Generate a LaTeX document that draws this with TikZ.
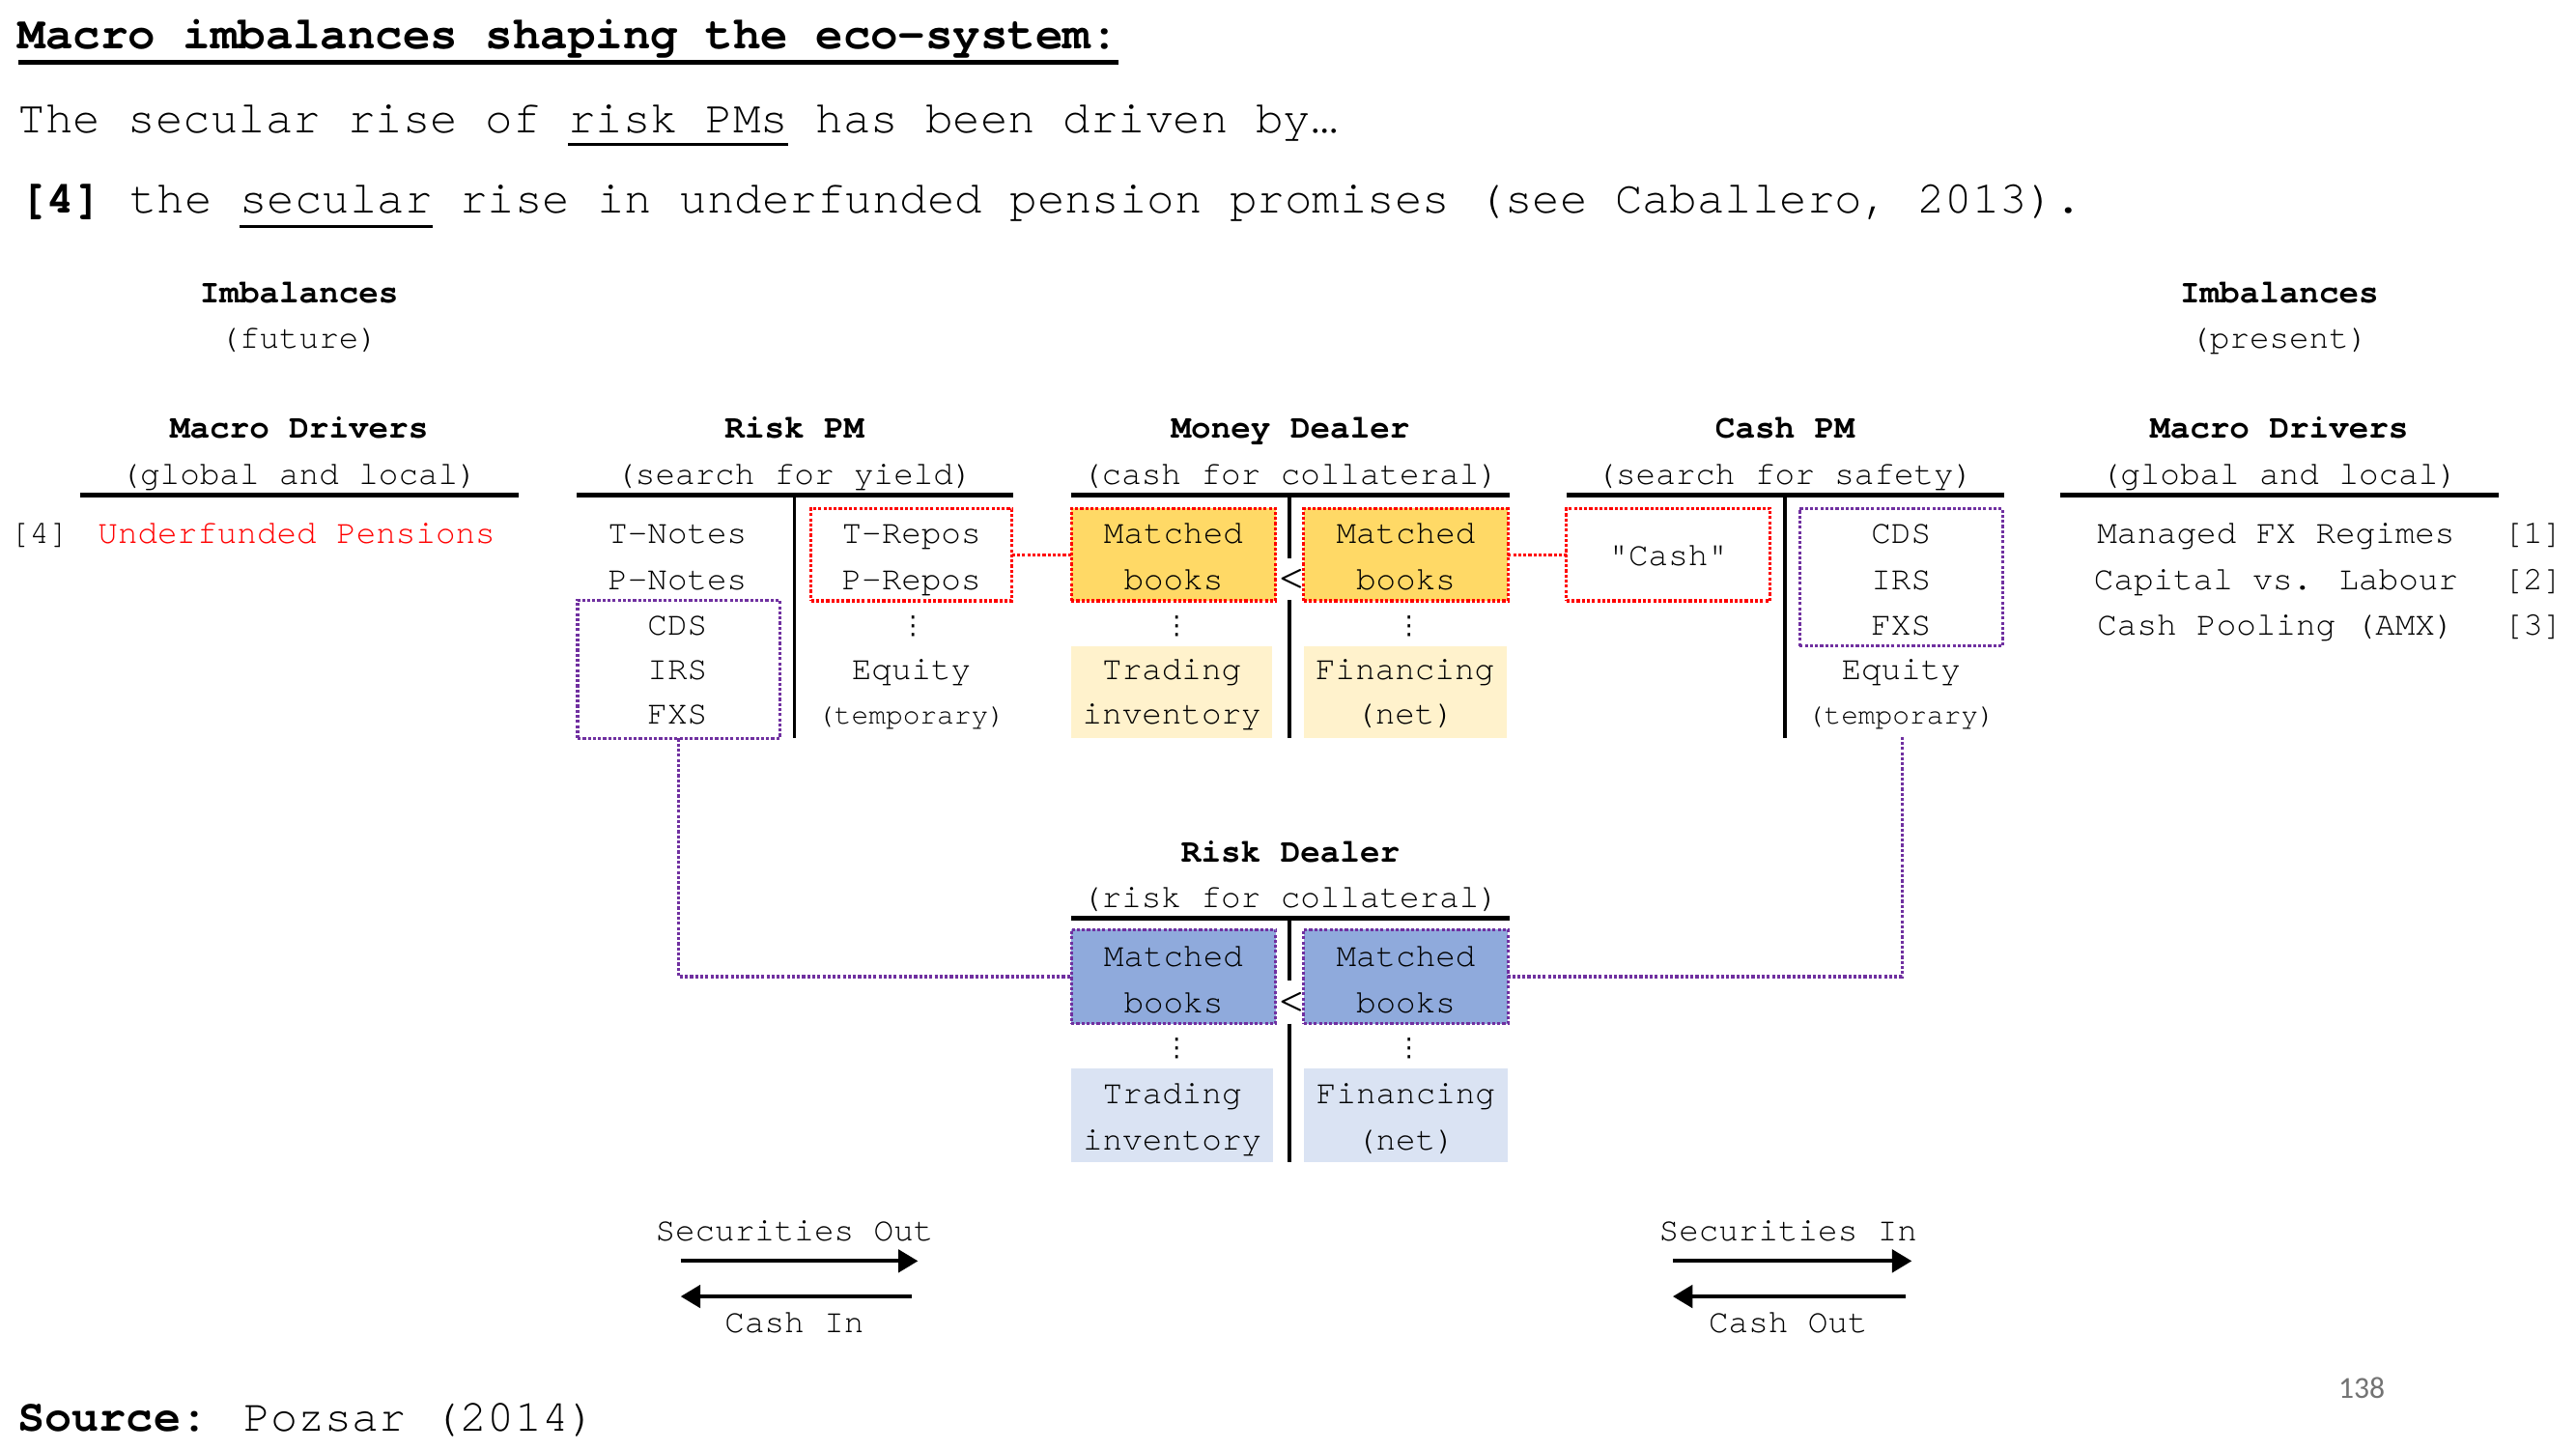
\documentclass[tikz,border=0pt]{standalone}
\usepackage{fontspec}
\setmainfont{TeX Gyre Cursor}
\newfontfamily\calib{Carlito}
\newfontfamily\dejavu{DejaVu Sans}
\usetikzlibrary{arrows.meta}
\definecolor{redd}{HTML}{FF0000}
\definecolor{purp}{HTML}{7030A0}
\definecolor{goldf}{HTML}{FFD966}
\definecolor{lgold}{HTML}{FFF2CC}
\definecolor{bluef}{HTML}{8FAADC}
\definecolor{lblue}{HTML}{DAE3F3}
\begin{document}
\begin{tikzpicture}[x=0.0170633cm,y=-0.0170633cm,
  every node/.style={inner sep=0pt, outer sep=0pt},
  big/.style={font=\fontsize{13.5pt}{16pt}\selectfont, anchor=base west},
  txt/.style={font=\fontsize{9.75pt}{13.35pt}\selectfont, anchor=base},
  hd/.style={font=\fontsize{9.75pt}{13.35pt}\selectfont\bfseries, anchor=base},
  sm/.style={font=\fontsize{8.4pt}{10pt}\selectfont, anchor=base},
  dts/.style={font=\dejavu\fontsize{7.5pt}{7.5pt}\selectfont, anchor=center},
  ltr/.style={font=\fontsize{15pt}{15pt}\selectfont, anchor=center},
  dotl/.style={line width=0.9pt, dash pattern=on 0.9pt off 0.6pt},
  redbox/.style={dotl, draw=redd},
  purbox/.style={dotl, draw=purp},
  bx/.style 2 args={minimum width=#1*0.0170633cm, minimum height=#2*0.0170633cm},
  tbar/.style={line width=1.3pt},
  vbar/.style={line width=1.1pt},
  flow/.style={line width=1.2pt, -{Triangle[length=5.8pt,width=6.6pt]}}
]
\useasboundingbox (0,0) rectangle (1563,879.08);

% ---------- header text ----------
\node[big, font=\fontsize{13.5pt}{16pt}\selectfont\bfseries] (title) at (11,29.4) {Macro imbalances shaping the eco-system:};
\draw[line width=1.4pt] ([yshift=-0.14cm]title.base west) -- ([yshift=-0.14cm]title.base east);

\node[big] (l2a) at (11,80.4) {The secular rise of\hphantom{x}};
\node[big] (l2b) at (l2a.base east) {risk PMs};
\node[big] (l2c) at (l2b.base east) {\hphantom{x}has been driven by…};
\draw[line width=0.8pt] ([yshift=-0.125cm]l2b.base west) -- ([yshift=-0.125cm]l2b.base east);

\node[big] (l3a) at (12,129.4) {\textbf{[4]} the\hphantom{x}};
\node[big] (l3b) at (l3a.base east) {secular};
\node[big] (l3c) at (l3b.base east) {\hphantom{x}rise in underfunded pension promises (see Caballero, 2013).};
\draw[line width=0.8pt] ([yshift=-0.135cm]l3b.base west) -- ([yshift=-0.135cm]l3b.base east);

% ---------- imbalances ----------
\node[hd] (imbL) at (181.5,183.5) {Imbalances};
\node[txt] (futL) at (181.5,211.5) {(future)};
\node[hd] (imbR) at (1383,183.5) {Imbalances};
\node[txt] (preR) at (1383,211.5) {(present)};

% ---------- column headings ----------
\node[hd] (mdL1) at (181.5,266) {Macro Drivers};
\node[txt] (mdL2) at (181.5,294) {(global and local)};
\node[hd] (rpm1) at (482,266) {Risk PM};
\node[txt] (rpm2) at (482,294) {(search for yield)};
\node[hd] (md1) at (783,266) {Money Dealer};
\node[txt] (md2) at (783,294) {(cash for collateral)};
\node[hd] (cp1) at (1083,266) {Cash PM};
\node[txt] (cp2) at (1083,294) {(search for safety)};
\node[hd] (mdR1) at (1383,266) {Macro Drivers};
\node[txt] (mdR2) at (1383,294) {(global and local)};

\draw[tbar] (48.5,300.5) -- (314.5,300.5);
\draw[tbar] (350,300.5) -- (614.5,300.5);
\draw[tbar] (650,300.5) -- (916,300.5);
\draw[tbar] (950.5,300.5) -- (1216,300.5);
\draw[tbar] (1250,300.5) -- (1516,300.5);

\draw[vbar] (482,300.5) -- (482,448);
\draw[vbar] (1083,300.5) -- (1083,448);
\draw[vbar] (782.5,300.5) -- (782.5,339);
\draw[vbar] (782.5,364) -- (782.5,448);

% ---------- left macro drivers ----------
\node[txt] (n4) at (24,329.5) {[4]};
\node[txt, text=redd] (unf) at (180,329.5) {Underfunded Pensions};

% ---------- Risk PM ----------
\node[bx={122}{56}, redbox] (rpmR) at (553,336.5) {};
\node[bx={122.5}{84}, purbox] (rpmD) at (411.75,406) {};
\node[txt] (tn) at (411,329.5) {T-Notes};
\node[txt] (pn) at (411,357.5) {P-Notes};
\node[txt] (cds1) at (411,385.5) {CDS};
\node[txt] (irs1) at (411,412.5) {IRS};
\node[txt] (fxs1) at (411,439.5) {FXS};
\node[txt] (tr) at (553,329.5) {T-Repos};
\node[txt] (pr) at (553,357.5) {P-Repos};
\node[dts] (dr1) at (554,380) {⋮};
\node[txt] (eq1) at (553,412.5) {Equity};
\node[sm] (tmp1) at (553,439) {(temporary)};

% ---------- Money Dealer ----------
\node[bx={124}{56}, redbox, fill=goldf] (mdLb) at (712,336.5) {};
\node[bx={124}{56}, redbox, fill=goldf] (mdRb) at (853,336.5) {};
\node[bx={122}{56}, fill=lgold] (mdTL) at (711,420) {};
\node[bx={123}{56}, fill=lgold] (mdTR) at (852.5,420) {};
\node[txt] (m1a) at (712,329.5) {Matched};
\node[txt] (m1b) at (712,357.5) {books};
\node[txt] (m2a) at (853,329.5) {Matched};
\node[txt] (m2b) at (853,357.5) {books};
\node[ltr] (lt1) at (784,352) {<};
\node[dts] (dm1) at (714,380) {⋮};
\node[dts] (dm2) at (855,380) {⋮};
\node[txt] (ti1) at (711,412.5) {Trading};
\node[txt] (ti2) at (711,439.5) {inventory};
\node[txt] (fn1) at (852.5,412.5) {Financing};
\node[txt] (fn2) at (852.5,439.5) {(net)};

% ---------- Cash PM ----------
\node[bx={123.5}{56}, redbox] (cashR) at (1012.25,336.5) {};
\node[txt] (csh) at (1012.25,343) {\addfontfeatures{Ligatures=TeXOff}"Cash"};
\node[bx={123}{83.5}, purbox] (cashD) at (1153.5,350.25) {};
\node[txt] (cds2) at (1153.5,329.5) {CDS};
\node[txt] (irs2) at (1153.5,357.5) {IRS};
\node[txt] (fxs2) at (1153.5,385.5) {FXS};
\node[txt] (eq2) at (1153.5,412.5) {Equity};
\node[sm] (tmp2) at (1153.5,439) {(temporary)};
\coordinate (cashbot) at (1154,447);

% ---------- right macro drivers ----------
\node[txt] (r1) at (1381,329.5) {Managed FX Regimes};
\node[txt] (r2) at (1381,357.5) {Capital vs. Labour};
\node[txt] (r3) at (1381,385.5) {Cash Pooling (AMX)};
\node[txt] (b1) at (1537,329.5) {[1]};
\node[txt] (b2) at (1537,357.5) {[2]};
\node[txt] (b3) at (1537,385.5) {[3]};

% ---------- Risk Dealer ----------
\node[hd] (rd1) at (783,523) {Risk Dealer};
\node[txt] (rd2) at (783,550.5) {(risk for collateral)};
\draw[tbar] (650,557) -- (916,557);
\draw[vbar] (782.5,557) -- (782.5,595);
\draw[vbar] (782.5,621) -- (782.5,705);
\node[bx={124}{57}, purbox, fill=bluef] (rdL) at (712,592.5) {};
\node[bx={124}{57}, purbox, fill=bluef] (rdR) at (853,592.5) {};
\node[bx={122.5}{57}, fill=lblue] (rdTL) at (711.25,676.5) {};
\node[bx={124}{57}, fill=lblue] (rdTR) at (853,676.5) {};
\node[txt] (q1a) at (712,586.5) {Matched};
\node[txt] (q1b) at (712,614.5) {books};
\node[txt] (q2a) at (853,586.5) {Matched};
\node[txt] (q2b) at (853,614.5) {books};
\node[ltr] (lt2) at (784,609) {<};
\node[dts] (dq1) at (714,636) {⋮};
\node[dts] (dq2) at (855,636) {⋮};
\node[txt] (ri1) at (711.25,669.5) {Trading};
\node[txt] (ri2) at (711.25,697.5) {inventory};
\node[txt] (rf1) at (853,669.5) {Financing};
\node[txt] (rf2) at (853,697.5) {(net)};

% ---------- connectors ----------
\draw[redbox] (rpmR.east) -- (mdLb.west);
\draw[redbox] (mdRb.east) -- (cashR.west);
\draw[purbox] (rpmD.south) |- (rdL.west);
\draw[purbox] (cashbot) |- (rdR.east);

% ---------- flows ----------
\node[txt] (secout) at (482,752.5) {Securities Out};
\node[txt] (cashin) at (482,808.5) {Cash In};
\coordinate (a1) at (413,765);
\coordinate (a2) at (557,765);
\coordinate (a3) at (553,786.5);
\coordinate (a4) at (413,786.5);
\draw[flow] (a1) -- (a2);
\draw[flow] (a3) -- (a4);

\node[txt] (secin) at (1085,752.5) {Securities In};
\node[txt] (cashout) at (1085,808.5) {Cash Out};
\coordinate (c1) at (1015,765);
\coordinate (c2) at (1160,765);
\coordinate (c3) at (1156,786.5);
\coordinate (c4) at (1015,786.5);
\draw[flow] (c1) -- (c2);
\draw[flow] (c3) -- (c4);

% ---------- footer ----------
\node[big, font=\fontsize{13.3pt}{16pt}\selectfont] (src) at (11,868) {\textbf{Source:} Pozsar (2014)};
\node[font=\calib\fontsize{9pt}{10pt}\selectfont, text=black!55] (pg) at (1433,842) {138};
\end{tikzpicture}
\end{document}
